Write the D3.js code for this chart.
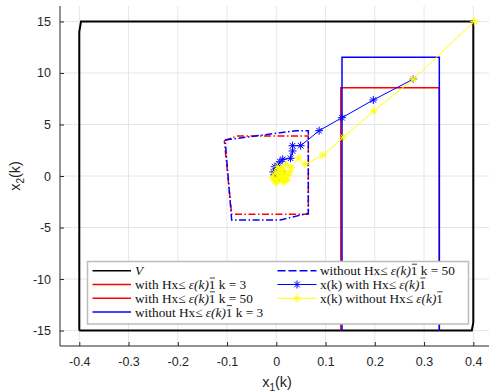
<!DOCTYPE html>
<html><head><meta charset="utf-8">
<script src="https://cdn.jsdelivr.net/npm/d3@7"></script>
<style>body{margin:0;background:#fff}svg{display:block}</style>
</head><body>
<script>
// ---- data ----
const xTicks = [-0.4,-0.3,-0.2,-0.1,0,0.1,0.2,0.3,0.4];
const xTickLabels = ["-0.4","-0.3","-0.2","-0.1","0","0.1","0.2","0.3","0.4"];
const yTicks = [-15,-10,-5,0,5,10,15];
const yTickLabels = ["-15","-10","-5","0","5","10","15"];

// constraint set V
const setVX = [-0.4, 0.397, 0.4, 0.4, -0.3965, -0.4, -0.4];
const setVY = [-15, -15, -14.2, 15, 15, 14, -15];
// with constraint, k = 3 (red rectangle)
const withK3X = [0.131, 0.131, 0.331, 0.331];
const withK3Y = [-15, 8.57, 8.57, -15];
// with constraint, k = 50 (red dash-dot)
const withK50X = [-0.1056, -0.08, 0.065, 0.065, -0.0906, -0.1056];
const withK50Y = [3.43, 3.88, 3.88, -3.72, -3.72, 3.43];
// without constraint, k = 3 (blue rectangle)
const withoutK3X = [0.1334, 0.1334, 0.331, 0.331];
const withoutK3Y = [-15, 11.52, 11.52, -15];
// without constraint, k = 50 (blue dash-dot)
const withoutK50X = [-0.104, 0.041, 0.065, 0.065, 0.008, -0.0906, -0.104];
const withoutK50Y = [3.5, 4.4, 4.4, -3.62, -4.27, -4.27, 3.5];
// trajectory with constraint (blue)
const trajWithX = [0.278,0.197,0.1334,0.087,0.0495,0.033,0.033,0.029,0.013,0.0075,0.002,-0.003,0.006,-0.006,0.012,0.004,-0.004,0.009,0.0,-0.002,0.01,0.003,0.007,0.005];
const trajWithY = [9.40,7.38,5.66,4.40,2.94,2.94,2.43,1.72,1.62,1.39,1.0,0.9,0.6,0.4,0.2,-0.1,0.1,0.5,-0.3,0.3,0.0,0.2,-0.2,0.1];
// trajectory without constraint (yellow)
const trajWithoutX = [0.402,0.278,0.198,0.136,0.095,0.058,0.045,0.03,0.02,0.005,0.025,-0.005,0.015,0.028,0.002,-0.008,0.022,0.01,0.0,0.018,0.008,-0.003,0.012,0.02,0.006,0.014,-0.001,0.009,0.016,0.004,0.011,0.007,0.013,0.01,0.012,0.009];
const trajWithoutY = [15.0,9.39,6.31,3.76,2.02,1.14,1.75,0.8,1.1,0.5,0.2,-0.3,-0.6,0.4,0.9,-0.1,-0.4,0.6,-0.7,0.0,-0.2,0.3,0.3,-0.2,0.1,0.5,-0.5,0.7,-0.4,0.2,-0.1,0.4,0.1,-0.3,0.0,0.2];

// ---- layout ----
const W = 489, H = 392;
const svg = d3.select("body").append("svg").attr("width", W).attr("height", H);
const x = d3.scaleLinear().domain([-0.44, 0.44]).range([59.6, 493]);
const y = d3.scaleLinear().domain([-16.5, 16.5]).range([346, 6]);
const pL = 60, pR = 489, pT = 6, pB = 346;

svg.append("defs").append("clipPath").attr("id","clip")
  .append("rect").attr("x", pL).attr("y", pT).attr("width", pR-pL).attr("height", pB-pT);

// grid
const grid = svg.append("g").attr("stroke", "#e6e6e6").attr("stroke-width", 1);
xTicks.forEach(t => grid.append("line").attr("x1", x(t)).attr("x2", x(t)).attr("y1", pT).attr("y2", pB));
yTicks.forEach(t => grid.append("line").attr("y1", y(t)).attr("y2", y(t)).attr("x1", pL).attr("x2", pR));

// axes
const xAxis = d3.axisBottom(x).tickValues(xTicks).tickFormat((d,i)=>xTickLabels[i]).tickSizeInner(-4).tickSizeOuter(0).tickPadding(11);
const yAxis = d3.axisLeft(y).tickValues(yTicks).tickFormat((d,i)=>yTickLabels[i]).tickSizeInner(-4).tickSizeOuter(0).tickPadding(9);
const gx = svg.append("g").attr("transform", `translate(0,${pB})`).call(xAxis);
const gy = svg.append("g").attr("transform", `translate(${pL},0)`).call(yAxis);
[gx, gy].forEach(g => {
  g.select(".domain").remove();
  g.selectAll("line").attr("stroke", "#262626");
  g.selectAll("text").attr("fill", "#262626").style("font-family", "Liberation Sans, Arial, sans-serif").style("font-size", "12.5px");
});
svg.append("line").attr("x1", pL).attr("x2", pR).attr("y1", pB).attr("y2", pB).attr("stroke", "#262626");
svg.append("line").attr("x1", pL).attr("x2", pL).attr("y1", pT).attr("y2", pB).attr("stroke", "#262626");

// axis labels
const xl = svg.append("text").attr("x", 277).attr("y", 387).attr("text-anchor", "middle")
  .style("font-family", "Liberation Sans, Arial, sans-serif").style("font-size", "14.5px").attr("fill", "#262626");
xl.append("tspan").text("x");
xl.append("tspan").attr("dy", 4).style("font-size", "10px").text("1");
xl.append("tspan").attr("dy", -4).text("(k)");
const yl = svg.append("text").attr("transform", "translate(20,176) rotate(-90)").attr("text-anchor", "middle")
  .style("font-family", "Liberation Sans, Arial, sans-serif").style("font-size", "14.5px").attr("fill", "#262626");
yl.append("tspan").text("x");
yl.append("tspan").attr("dy", 4).style("font-size", "10px").text("2");
yl.append("tspan").attr("dy", -4).text("(k)");

// plot
const plot = svg.append("g").attr("clip-path", "url(#clip)");
const line = d3.line().x(d => x(d[0])).y(d => y(d[1]));
const zip = (a, b) => a.map((v, i) => [v, b[i]]);

plot.append("path").attr("d", line(zip(setVX, setVY))).attr("fill", "none").attr("stroke", "#000").attr("stroke-width", 2);
plot.append("path").attr("d", line(zip(withK3X, withK3Y))).attr("fill", "none").attr("stroke", "#ff0000").attr("stroke-width", 1.5);
plot.append("path").attr("d", line(zip(withK50X, withK50Y))).attr("fill", "none").attr("stroke", "#ff0000").attr("stroke-width", 1.5).attr("stroke-dasharray", "7,2.5,1.5,2.5");
plot.append("path").attr("d", line(zip(withoutK3X, withoutK3Y))).attr("fill", "none").attr("stroke", "#0000ff").attr("stroke-width", 1.5);
plot.append("path").attr("d", line(zip(withoutK50X, withoutK50Y))).attr("fill", "none").attr("stroke", "#0000ff").attr("stroke-width", 1.5).attr("stroke-dasharray", "7,2.5,1.5,2.5");

function star(r) {
  const a = r * 0.7;
  return `M${-r},0L${r},0M0,${-r}L0,${r}M${-a},${-a}L${a},${a}M${-a},${a}L${a},${-a}`;
}
function traj(xs, ys, color) {
  const pts = zip(xs, ys);
  plot.append("path").attr("d", line(pts)).attr("fill", "none").attr("stroke", color).attr("stroke-width", 1);
  plot.selectAll(null).data(pts).enter().append("path")
    .attr("transform", d => `translate(${x(d[0])},${y(d[1])})`)
    .attr("d", star(4)).attr("fill", "none").attr("stroke", color).attr("stroke-width", 1);
}
traj(trajWithX, trajWithY, "#0000ff");
traj(trajWithoutX, trajWithoutY, "#ffff00");

// legend
const lg = svg.append("g");
lg.append("rect").attr("x", 87.5).attr("y", 261.5).attr("width", 381).attr("height", 62.5)
  .attr("fill", "#fff").attr("stroke", "#bdbdbd").attr("stroke-width", 1.5);
const rows = [270.7, 284.5, 298.3, 312.1];
const items = [
  {c:0, r:0, color:"#000", dash:null, m:false},
  {c:0, r:1, color:"#ff0000", dash:null, m:false, k:"3", pre:"with"},
  {c:0, r:2, color:"#ff0000", dash:null, m:false, k:"50", pre:"with"},
  {c:0, r:3, color:"#0000ff", dash:null, m:false, k:"3", pre:"without"},
  {c:1, r:0, color:"#0000ff", dash:"8,3", m:false, k:"50", pre:"without"},
  {c:1, r:1, color:"#0000ff", dash:null, m:true, traj:"with"},
  {c:1, r:2, color:"#ffff00", dash:null, m:true, traj:"without"}
];
const colX = [[92.5, 131, 135], [277.5, 316.5, 320]];
items.forEach((it, i) => {
  const [x1, x2, tx] = colX[it.c];
  const yy = rows[it.r];
  const l = lg.append("line").attr("x1", x1).attr("x2", x2).attr("y1", yy).attr("y2", yy)
    .attr("stroke", it.color).attr("stroke-width", 1.5);
  if (it.dash) l.attr("stroke-dasharray", it.dash);
  if (it.m) {
    l.attr("stroke-width", 1);
    lg.append("path").attr("transform", `translate(${(x1+x2)/2},${yy})`).attr("d", star(4))
      .attr("fill", "none").attr("stroke", it.color).attr("stroke-width", 1);
  }
  const by = yy + 4.5;
  const t = lg.append("text").attr("x", tx).attr("y", by)
    .style("font-family", "Liberation Serif, 'Times New Roman', serif").style("font-size", "13.3px").attr("fill", "#111");
  if (i === 0) {
    t.append("tspan").style("font-style", "italic").text("V");
    return;
  }
  const pre = it.traj ? `x(k) ${it.traj} Hx\u2264 ` : `${it.pre} Hx\u2264 `;
  t.append("tspan").text(pre);
  t.append("tspan").style("font-style", "italic").text("\u03B5(k)");
  t.append("tspan").text("1");
  if (it.k) t.append("tspan").text(` k = ${it.k}`);
  // overline over the "1"
  const idx = pre.length + 4;
  const node = t.node();
  const s = node.getStartPositionOfChar(idx), e = node.getEndPositionOfChar(idx);
  lg.append("line").attr("x1", s.x + 1).attr("x2", e.x - 0.5).attr("y1", by - 11).attr("y2", by - 11)
    .attr("stroke", "#111").attr("stroke-width", 0.8);
});
</script>
</body></html>
